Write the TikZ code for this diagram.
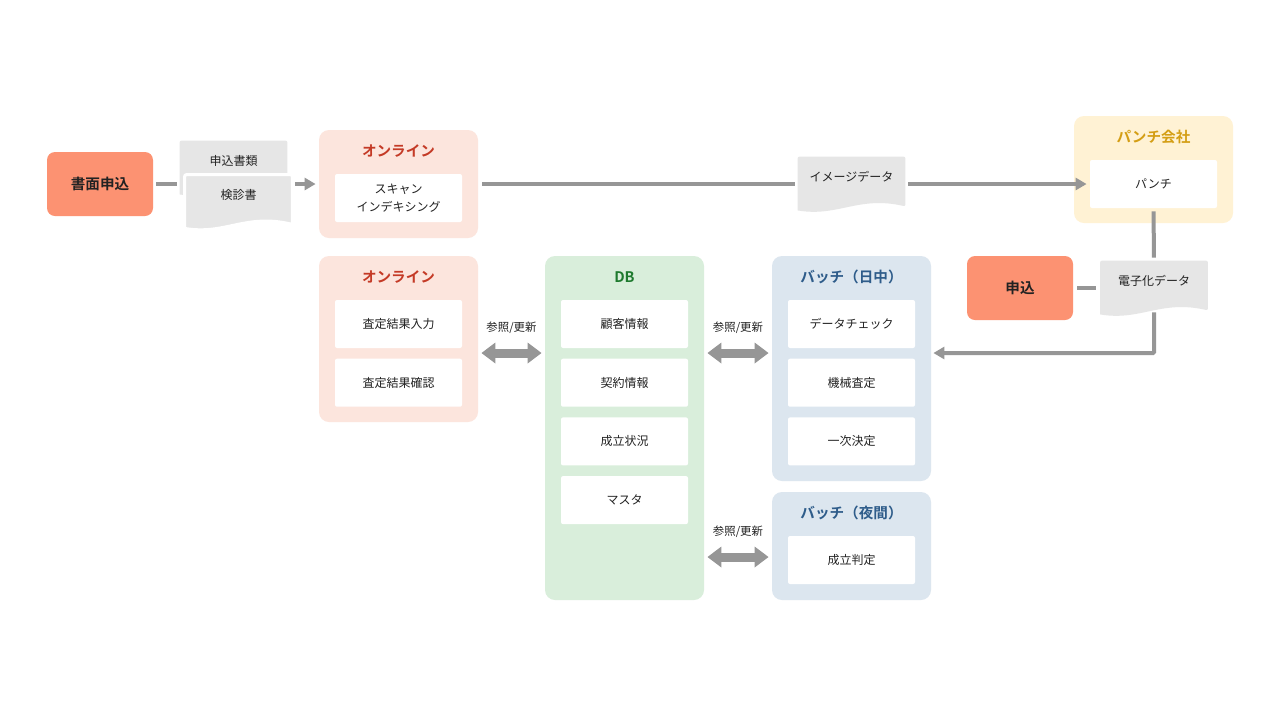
\documentclass[tikz,border=0pt]{standalone}
\usepackage{fontspec}
\setmainfont{Noto Sans CJK JP}[BoldFont={Noto Sans CJK JP Bold}]
\usetikzlibrary{arrows.meta,calc,backgrounds}

\definecolor{salmon}{RGB}{252,146,114}
\definecolor{onbg}{RGB}{252,229,221}
\definecolor{onttl}{RGB}{196,58,38}
\definecolor{pcbg}{RGB}{255,242,212}
\definecolor{pcttl}{RGB}{212,158,20}
\definecolor{dbbg}{RGB}{217,238,219}
\definecolor{dbttl}{RGB}{30,122,46}
\definecolor{btbg}{RGB}{220,230,239}
\definecolor{btttl}{RGB}{46,92,138}
\definecolor{docgray}{RGB}{230,230,230}
\definecolor{linegray}{RGB}{150,150,150}
\definecolor{txt}{RGB}{34,34,34}

% document shape under a named node
\newcommand\docshape[2][]{%
  \path[fill=docgray,rounded corners=1pt,#1] ($(#2.south west)+(0,13)$) -- (#2.north west) -- (#2.north east)
    -- ($(#2.south east)+(0,9)$) [sharp corners] .. controls ($(#2.south east)+(-47,-2)$) and ($(#2.south west)+(40,20)$) .. cycle;}

\begin{document}
\begin{tikzpicture}[x=0.5pt,y=-0.5pt,
  grp/.style={rounded corners=5pt,minimum width=79.5pt,inner sep=0pt},
  sub/.style={fill=white,rounded corners=1pt,minimum width=63.5pt,minimum height=24pt,inner sep=0pt,
    align=center,text=txt,font=\fontsize{6}{9}\selectfont},
  ttl/.style={font=\bfseries\fontsize{7.3}{9}\selectfont},
  start/.style={fill=salmon,rounded corners=4pt,minimum width=53pt,minimum height=32pt,text=txt,
    font=\bfseries\fontsize{7.3}{9}\selectfont},
  doc/.style={minimum width=53.5pt,minimum height=20pt,inner sep=0pt,text=txt,font=\fontsize{6}{8}\selectfont},
  lbl/.style={text=txt,font=\fontsize{5.7}{7}\selectfont},
  conn/.style={draw=linegray,line width=2pt},
  tip/.style={conn,-{Triangle[length=5.5pt,width=6pt]}},
  dbl/.style={draw=linegray,line width=4.5pt,shorten <=1.5pt,shorten >=1.5pt,
    {Triangle[length=7pt,width=10pt]}-{Triangle[length=7pt,width=10pt]}}]
  \begin{scope}[on background layer]
    \fill[white] (0,0) rectangle (1280,720);
  \end{scope}
  \useasboundingbox (0,0) rectangle (1280,720);

  % groups
  \node[grp,fill=onbg,minimum height=54pt] (on1) at (398.5,184) {};
  \node[grp,fill=onbg,minimum height=83pt] (on2) at (398.5,339) {};
  \node[grp,fill=dbbg,minimum height=172pt] (db) at (624.5,428) {};
  \node[grp,fill=btbg,minimum height=112.5pt] (bd) at (851.5,368.5) {};
  \node[grp,fill=btbg,minimum height=54pt] (bn) at (851.5,546) {};
  \node[grp,fill=pcbg,minimum height=53.5pt] (pc) at (1153.5,169.5) {};

  \node[ttl,text=onttl] (on1t) at (398.5,151) {オンライン};
  \node[ttl,text=onttl] (on2t) at (398.5,277) {オンライン};
  \node[ttl,text=dbttl] (dbt) at (624.5,277) {DB};
  \node[ttl,text=btttl] (bdt) at (851.5,277) {バッチ（日中）};
  \node[ttl,text=btttl] (bnt) at (851.5,513) {バッチ（夜間）};
  \node[ttl,text=pcttl] (pct) at (1153.5,137) {パンチ会社};

  \node[sub] (scan) at (398.5,198) {スキャン\\インデキシング};
  \node[sub] (punch) at (1153.5,184) {パンチ};
  \foreach \t [count=\i] in {査定結果入力,査定結果確認}
    \node[sub] (on2\i) at (398.5,{324+58.7*(\i-1)}) {\t};
  \foreach \t [count=\i] in {顧客情報,契約情報,成立状況,マスタ}
    \node[sub] (db\i) at (624.5,{324+58.7*(\i-1)}) {\t};
  \foreach \t [count=\i] in {データチェック,機械査定,一次決定}
    \node[sub] (bd\i) at (851.5,{324+58.7*(\i-1)}) {\t};
  \node[sub] (bn1) at (851.5,560) {成立判定};

  % start boxes
  \node[start] (sho) at (100,184) {書面申込};
  \node[start] (mo) at (1020,288) {申込};

  % documents
  \node[doc] (shorui) at (233.5,161) {申込書類};
  \node[doc] (kens) at (238.5,195) {検診書};
  \node[doc] (img) at (851.5,177) {イメージデータ};
  \node[doc] (ek) at (1154,281) {電子化データ};
  \begin{scope}[on background layer]
    \docshape{shorui}
    \docshape[draw=white,line width=1.5pt]{kens}
    \docshape{img}
    \docshape{ek}
  \end{scope}

  % connectors
  \draw[conn,shorten <=1.5pt,shorten >=1.5pt] (sho.east) -- (sho.east -| shorui.west);
  \draw[tip,shorten <=1.5pt,shorten >=1.5pt] (on1.west -| kens.east) -- (on1.west);
  \draw[conn,shorten <=2pt,shorten >=1.5pt] (on1.east) -- (on1.east -| img.west);
  \draw[tip,shorten <=1.5pt,shorten >=1.5pt] (on1.east -| img.east) -- (on1.east -| punch.west);
  \draw[conn,shorten <=1.5pt,shorten >=1.5pt] (punch.south) -- (ek.north);
  \draw[conn,shorten <=2pt,shorten >=2pt] (mo.east) -- (mo.east -| ek.west);
  \coordinate (r1) at (0,353);
  \coordinate (r2) at (0,557);
  \draw[tip,rounded corners=0.5pt,shorten >=1pt] ($(ek.south)+(0,11)$) |- (bd.east |- r1);

  \draw[dbl] (on2.east |- r1) -- (db.west |- r1);
  \draw[dbl] (db.east |- r1) -- (bd.west |- r1);
  \draw[dbl] (db.east |- r2) -- (bn.west |- r2);
  \node[lbl] (l1) at (511.5,328) {参照/更新};
  \node[lbl] (l2) at (738,328) {参照/更新};
  \node[lbl] (l3) at (738,532) {参照/更新};
\end{tikzpicture}
\end{document}
